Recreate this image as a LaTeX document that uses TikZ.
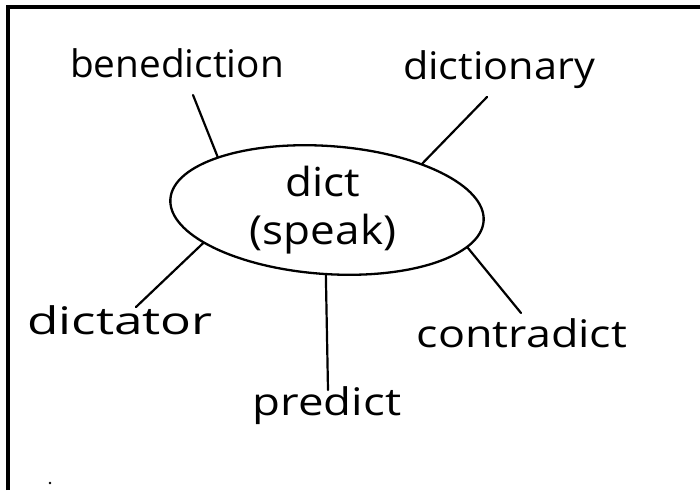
\documentclass[tikz,border=0pt]{standalone}
\usepackage{fontspec}
\setmainfont{Open Sans}
\usetikzlibrary{shapes.geometric}
\begin{document}
\begin{tikzpicture}[x=1pt,y=-1pt,
  lbl/.style={inner sep=0pt, font=\fontsize{38}{46}\selectfont},
  conn/.style={line width=2.2pt, line cap=round},
  frame/.style={line width=3.5pt}]
\useasboundingbox (0,0) rectangle (700,490);
\draw[frame] (8,490) -- (8,7) -- (700,7);
\fill (50,483) circle (1.3);
% center ellipse
\node[ellipse, draw, line width=2.3pt, rotate=-4, minimum width=314pt, minimum height=128pt, inner sep=0pt] (c) at (327,210) {};
\node[lbl, align=center, font=\fontsize{40}{48}\selectfont] (ct) at (323,210) {\scalebox{1.1}[1]{dict}\\\scalebox{1.1}[1]{(speak)}};
% labels
\node[lbl] (ben) at (177,63) {\scalebox{1.02}[1]{benediction}};
\node[lbl] (dic) at (499,70) {\scalebox{1.09}[1]{dictionary}};
\node[lbl] (dtr) at (120,320) {\scalebox{1.35}[1]{dictator}};
\node[lbl] (con) at (522,333) {\scalebox{1.18}[1]{contradict}};
\node[lbl] (pre) at (327,406) {\scalebox{1.2}[1]{predict}};
% connector ends
\coordinate (b1) at (193,95);
\coordinate (b2) at (487,97);
\coordinate (b3) at (136,307);
\coordinate (b4) at (328,390);
\coordinate (b5) at (521,313);
\draw[conn] (c.158.5) -- (b1);
\draw[conn] (c.30.6) -- (b2);
\draw[conn] (c.199.5) -- (b3);
\draw[conn] (c.349) -- (b5);
\draw[conn] (c.273) -- (b4);
\end{tikzpicture}
\end{document}
